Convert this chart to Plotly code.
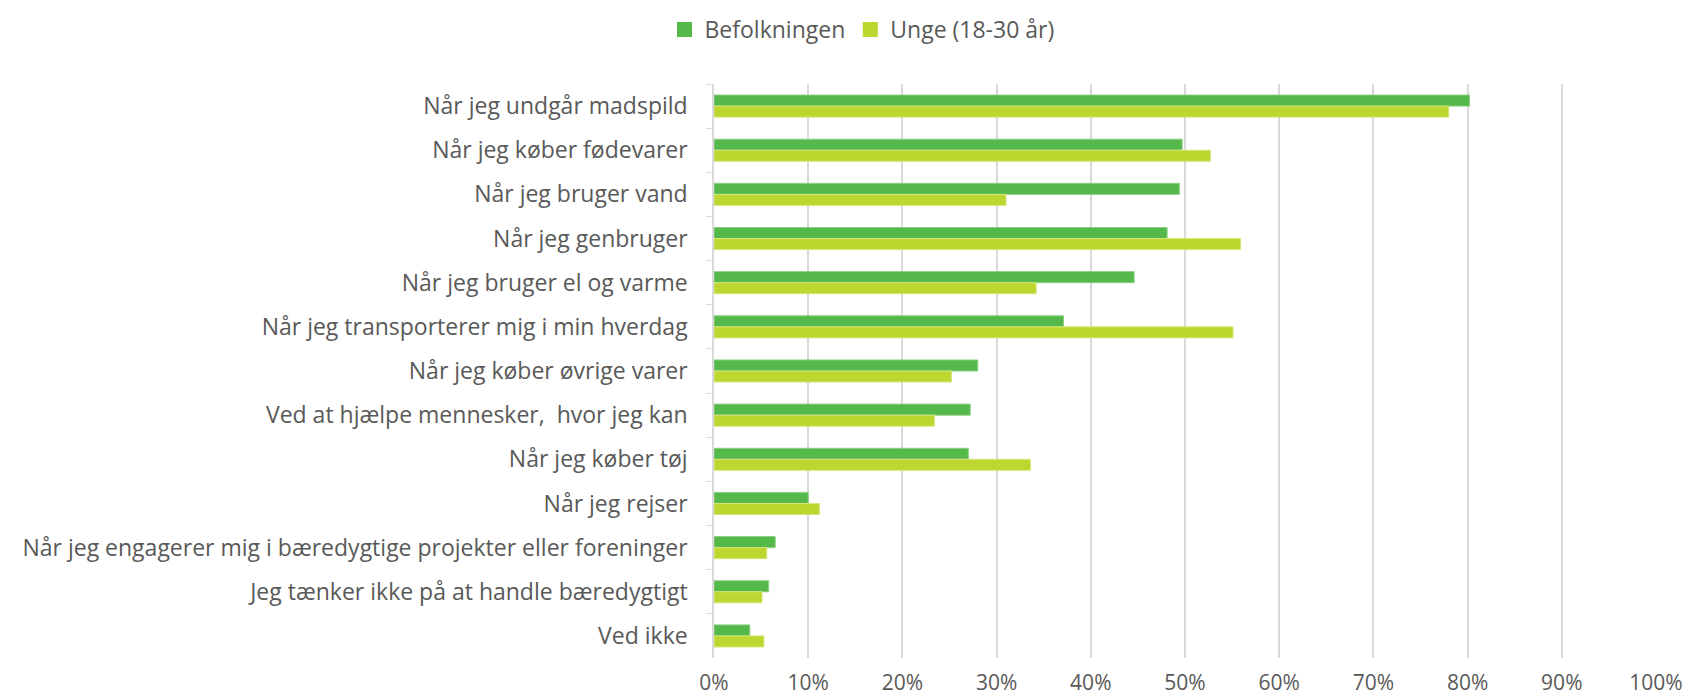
import plotly.graph_objects as go

CATEGORIES = [
    "Når jeg undgår madspild",
    "Når jeg køber fødevarer",
    "Når jeg bruger vand",
    "Når jeg genbruger",
    "Når jeg bruger el og varme",
    "Når jeg transporterer mig i min hverdag",
    "Når jeg køber øvrige varer",
    "Ved at hjælpe mennesker,  hvor jeg kan",
    "Når jeg køber tøj",
    "Når jeg rejser",
    "Når jeg engagerer mig i bæredygtige projekter eller foreninger",
    "Jeg tænker ikke på at handle bæredygtigt",
    "Ved ikke",
]
BEFOLKNINGEN = [0.802, 0.497, 0.494, 0.481, 0.446, 0.371, 0.280, 0.272, 0.270, 0.100, 0.065, 0.058, 0.038]
UNGE = [0.780, 0.527, 0.310, 0.559, 0.342, 0.551, 0.252, 0.234, 0.336, 0.112, 0.056, 0.051, 0.053]
SERIES_NAMES = ["Befolkningen", "Unge (18-30 år)"]

COLOR_BEF = "#55B84A"
COLOR_UNGE = "#BDD730"
TEXT_COLOR = "#595959"
GRID_COLOR = "#D9D9D9"
FONT = "Open Sans"

fig = go.Figure()
fig.add_trace(go.Bar(
    y=CATEGORIES, x=BEFOLKNINGEN, name=SERIES_NAMES[0], orientation="h",
    marker=dict(color=COLOR_BEF, line=dict(color="#8CCF84", width=1)),
    showlegend=False,
))
fig.add_trace(go.Bar(
    y=CATEGORIES, x=UNGE, name=SERIES_NAMES[1], orientation="h",
    marker=dict(color=COLOR_UNGE, line=dict(color="#D6E67A", width=1)),
    showlegend=False,
))

# square swatches for the legend, like the Excel original
for name, color in zip(SERIES_NAMES, [COLOR_BEF, COLOR_UNGE]):
    fig.add_trace(go.Scatter(
        x=[None], y=[None], mode="markers", name=name,
        marker=dict(symbol="square", size=15, color=color),
    ))

fig.update_layout(
    width=1690,
    height=696,
    plot_bgcolor="white",
    paper_bgcolor="white",
    barmode="group",
    bargap=0.5,
    bargroupgap=0,
    margin=dict(l=706, r=42, t=76, b=46, autoexpand=False),
    font=dict(family=FONT, size=23, color=TEXT_COLOR),
    legend=dict(
        orientation="h",
        xref="container", yref="container",
        x=854 / 1690, xanchor="center",
        y=1, yanchor="top",
        font=dict(size=23, color=TEXT_COLOR),
        itemwidth=30,
        traceorder="normal",
    ),
    xaxis=dict(
        range=[0, 1],
        dtick=0.1,
        tickformat=".0%",
        showgrid=True,
        gridcolor=GRID_COLOR,
        gridwidth=1.5,
        zeroline=False,
        showline=False,
        ticks="",
        ticklabelstandoff=10,
        tickfont=dict(size=21, color=TEXT_COLOR),
        fixedrange=True,
    ),
    yaxis=dict(
        categoryorder="array",
        categoryarray=CATEGORIES,
        autorange="reversed",
        showline=True,
        linecolor=GRID_COLOR,
        linewidth=1.5,
        ticks="outside",
        tickson="boundaries",
        ticklen=6,
        tickcolor=GRID_COLOR,
        ticklabelstandoff=20,
        showgrid=False,
        tickfont=dict(size=23, color=TEXT_COLOR),
    ),
)

fig.write_html("out.html")
